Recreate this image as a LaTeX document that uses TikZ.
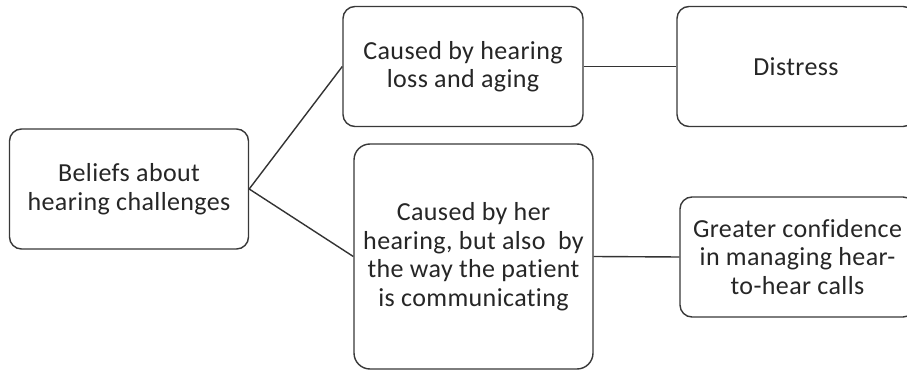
\documentclass[tikz,border=0pt]{standalone}
\usepackage{fontspec}
\setmainfont{Carlito}[Ligatures={NoCommon}, LetterSpace=1.5]
\begin{document}
\begin{tikzpicture}[x=1pt,y=-1pt,
  box/.style={draw=black!78, line width=1.4pt, rounded corners=12pt,
    align=center, inner sep=0pt, text=black!85,
    font=\fontsize{26}{28.5}\selectfont},
  link/.style={draw=black!80, line width=1.4pt}]
  \clip (0,0) rectangle (907,371);
  \fill[white] (0,0) rectangle (907,371);
  % hierarchy of beliefs and outcomes
  \node[box, minimum width=239pt, minimum height=120pt] (A) at (129,189)
    {Beliefs about\\hearing challenges};
  \node[box, minimum width=240pt, minimum height=120pt] (B) at (463,66.5)
    {Caused by hearing\\loss and aging};
  \node[box, minimum width=238pt, minimum height=120pt] (C) at (796,66.5)
    {Distress};
  \node[box, rounded corners=16pt, minimum width=239pt, minimum height=225pt] (D) at (473.5,256.5)
    {Caused by her\\hearing, but also\ \ by\\the way the patient\\is communicating};
  \node[box, minimum width=235pt, minimum height=120pt] (E) at (797.5,257)
    {Greater confidence\\in managing hear-\\to-hear calls};
  % connectors
  \draw[link] (A.east) -- (B.west);
  \draw[link] (A.east) -- (D.west);
  \draw[link] (B.east) -- (C.west);
  \draw[link] (D.east) -- (E.west);
\end{tikzpicture}
\end{document}
